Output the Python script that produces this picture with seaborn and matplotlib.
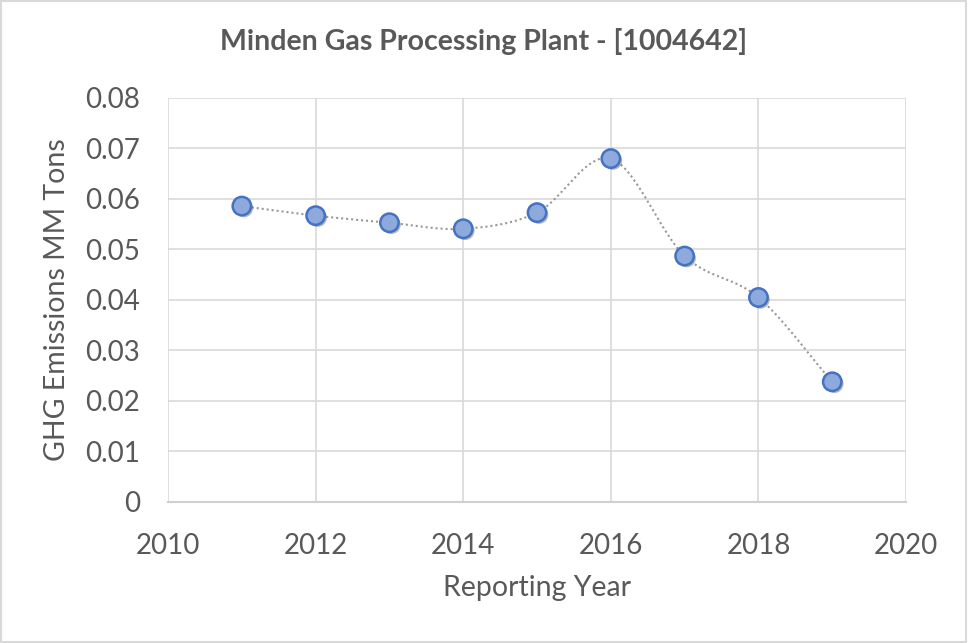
import numpy as np
import pandas as pd
import matplotlib
matplotlib.use('Agg')
import matplotlib.pyplot as plt
import matplotlib.patheffects as pe
import seaborn as sns

years = [2011, 2012, 2013, 2014, 2015, 2016, 2017, 2018, 2019]
emissions = [0.0586, 0.0567, 0.0553, 0.0541, 0.0573, 0.0680, 0.0487, 0.0405, 0.0238]

df = pd.DataFrame({'year': years, 'ghg': emissions})

def smooth(x, y, n=30):
    # catmull-rom style smoothing like excel's "smoothed line"
    x = np.asarray(x, float); y = np.asarray(y, float)
    px = np.concatenate([[2*x[0]-x[1]], x, [2*x[-1]-x[-2]]])
    py = np.concatenate([[2*y[0]-y[1]], y, [2*y[-1]-y[-2]]])
    xs, ys = [], []
    for i in range(1, len(px)-2):
        t = np.linspace(0, 1, n)
        for p, out in ((px, xs), (py, ys)):
            p0, p1, p2, p3 = p[i-1], p[i], p[i+1], p[i+2]
            out.extend(0.5*((2*p1) + (-p0+p2)*t + (2*p0-5*p1+4*p2-p3)*t**2 + (-p0+3*p1-3*p2+p3)*t**3))
    return np.array(xs), np.array(ys)

sns.set_style('white')
plt.rcParams['font.family'] = ['Lato', 'DejaVu Sans']
txt = '#595959'

fig = plt.figure(figsize=(9.68, 6.43), dpi=100)
ax = fig.add_axes([0.1736, 0.2193, 0.936-0.1736, 0.8476-0.2193])

sx, sy = smooth(df.year, df.ghg)
ax.plot(sx, sy, color='#999999', lw=1.5, ls=(0, (1, 1.4)), zorder=2)
sns.scatterplot(data=df, x='year', y='ghg', ax=ax, s=175, color='#8eaadc',
                edgecolor='#4472c4', linewidth=1.8, zorder=3,
                path_effects=[pe.SimplePatchShadow(offset=(1.5, -1.5), alpha=0.35), pe.Normal()])

ax.set_xlim(2010, 2020)
ax.set_ylim(0, 0.08)
ax.set_xticks(range(2010, 2021, 2))
ax.set_yticks(np.arange(0, 0.081, 0.01))
ax.set_yticklabels(['0'] + ['%.2f' % v for v in np.arange(0.01, 0.081, 0.01)])
ax.grid(True, color='#d9d9d9', lw=1.2)
for s in ['top', 'right', 'left']:
    ax.spines[s].set_visible(False)
ax.spines['bottom'].set_color('#d0d0d0')
ax.spines['bottom'].set_linewidth(1.5)
ax.tick_params(axis='x', length=0, labelsize=20, colors=txt, pad=22)
ax.tick_params(axis='y', length=0, labelsize=20, colors=txt, pad=20)
ax.set_xlabel('Reporting Year', fontsize=20.5, color=txt, labelpad=12)
ax.set_ylabel('GHG Emissions MM Tons', fontsize=20.5, color=txt, labelpad=11)
fig.text(0.5, 0.935, 'Minden Gas Processing Plant - [1004642]', ha='center', va='center',
         fontsize=20.5, fontweight='bold', color=txt)

fig.patches.append(plt.Rectangle((0.001, 0.001), 0.997, 0.997, transform=fig.transFigure,
                                 fill=False, edgecolor='#d9d9d9', lw=1.5))
fig.savefig('out.png', dpi=100)
